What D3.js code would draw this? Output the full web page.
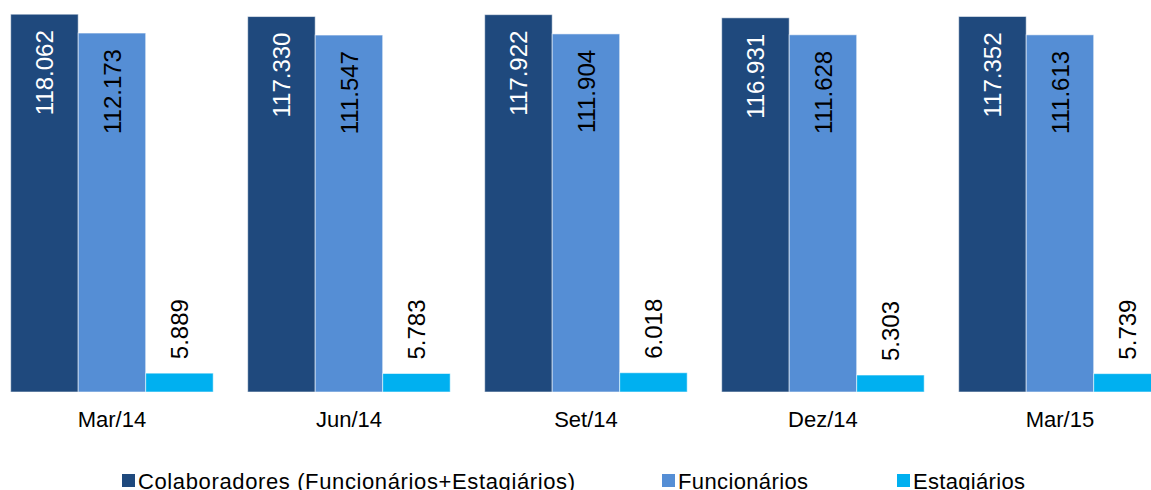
<!DOCTYPE html>
<html>
<head>
<meta charset="utf-8">
<script src="https://cdn.jsdelivr.net/npm/d3@7"></script>
<style>
  html, body { margin: 0; padding: 0; background: #fff; }
  svg { display: block; font-family: "Liberation Sans", Arial, sans-serif; }
</style>
</head>
<body>
<svg id="chart" width="1151" height="490"></svg>
<script>
const categories = ["Mar/14", "Jun/14", "Set/14", "Dez/14", "Mar/15"];
const seriesNames = ["Colaboradores (Funcionários+Estagiários)", "Funcionários", "Estagiários"];
const colaboradores = [118062, 117330, 117922, 116931, 117352];
const funcionarios = [112173, 111547, 111904, 111628, 111613];
const estagiarios = [5889, 5783, 6018, 5303, 5739];
const colors = ["#1F497D", "#558ED5", "#00B0F0"];
const labelColors = ["#ffffff", "#000000", "#000000"];

const seriesValues = [colaboradores, funcionarios, estagiarios];
const fmt = v => d3.format(",")(v).replace(/,/g, ".");

const svg = d3.select("#chart");
const step = 237, pInner = 0.1456, x0Start = 10.7;
const x0 = d3.scaleBand().domain(categories)
  .range([x0Start, x0Start + step * (categories.length - pInner)])
  .paddingInner(pInner).paddingOuter(0);
const x1 = d3.scaleBand().domain(d3.range(seriesNames.length)).range([0, x0.bandwidth()]).padding(0);
const y = d3.scaleLinear().domain([0, 120000]).range([392, 8]);

const data = [];
categories.forEach((c, i) => {
  seriesValues.forEach((vals, s) => data.push({ cat: c, s, v: vals[i] }));
});

const g = svg.append("g");
g.selectAll("rect.bar").data(data).join("rect")
  .attr("class", "bar")
  .attr("x", d => x0(d.cat) + x1(d.s))
  .attr("y", d => y(d.v))
  .attr("width", x1.bandwidth())
  .attr("height", d => y(0) - y(d.v))
  .attr("fill", d => colors[d.s])
  .attr("stroke", "rgba(255,255,255,0.55)")
  .attr("stroke-width", 1);

g.selectAll("text.val").data(data).join("text")
  .attr("class", "val")
  .attr("transform", d => {
    const cx = x0(d.cat) + x1(d.s) + x1.bandwidth() / 2 + 9;
    const yy = d.s < 2 ? y(d.v) + 16 : y(d.v) - 14;
    return `translate(${cx},${yy}) rotate(-90)`;
  })
  .attr("text-anchor", d => d.s < 2 ? "end" : "start")
  .attr("font-size", 24)
  .attr("fill", d => labelColors[d.s])
  .text(d => fmt(d.v));

// category axis labels
const xAxis = d3.axisBottom(x0).tickSize(0).tickPadding(0);
const ax = svg.append("g").attr("transform", "translate(0,392)").call(xAxis);
ax.select(".domain").remove();
ax.selectAll("text")
  .attr("font-size", 22)
  .attr("font-family", "Liberation Sans, Arial, sans-serif")
  .attr("fill", "#000")
  .attr("dy", null)
  .attr("y", 35);

// legend
const legendX = [138, 678, 913];
const legendW = [437, 130, 112];
const leg = svg.append("g");
seriesNames.forEach((name, i) => {
  leg.append("rect")
    .attr("x", legendX[i] - 16).attr("y", 474)
    .attr("width", 13).attr("height", 13)
    .attr("fill", colors[i]);
  leg.append("text")
    .attr("x", legendX[i]).attr("y", 489)
    .attr("font-size", 22)
    .attr("fill", "#000")
    .attr("textLength", legendW[i])
    .attr("lengthAdjust", "spacing")
    .text(name);
});
</script>
</body>
</html>
